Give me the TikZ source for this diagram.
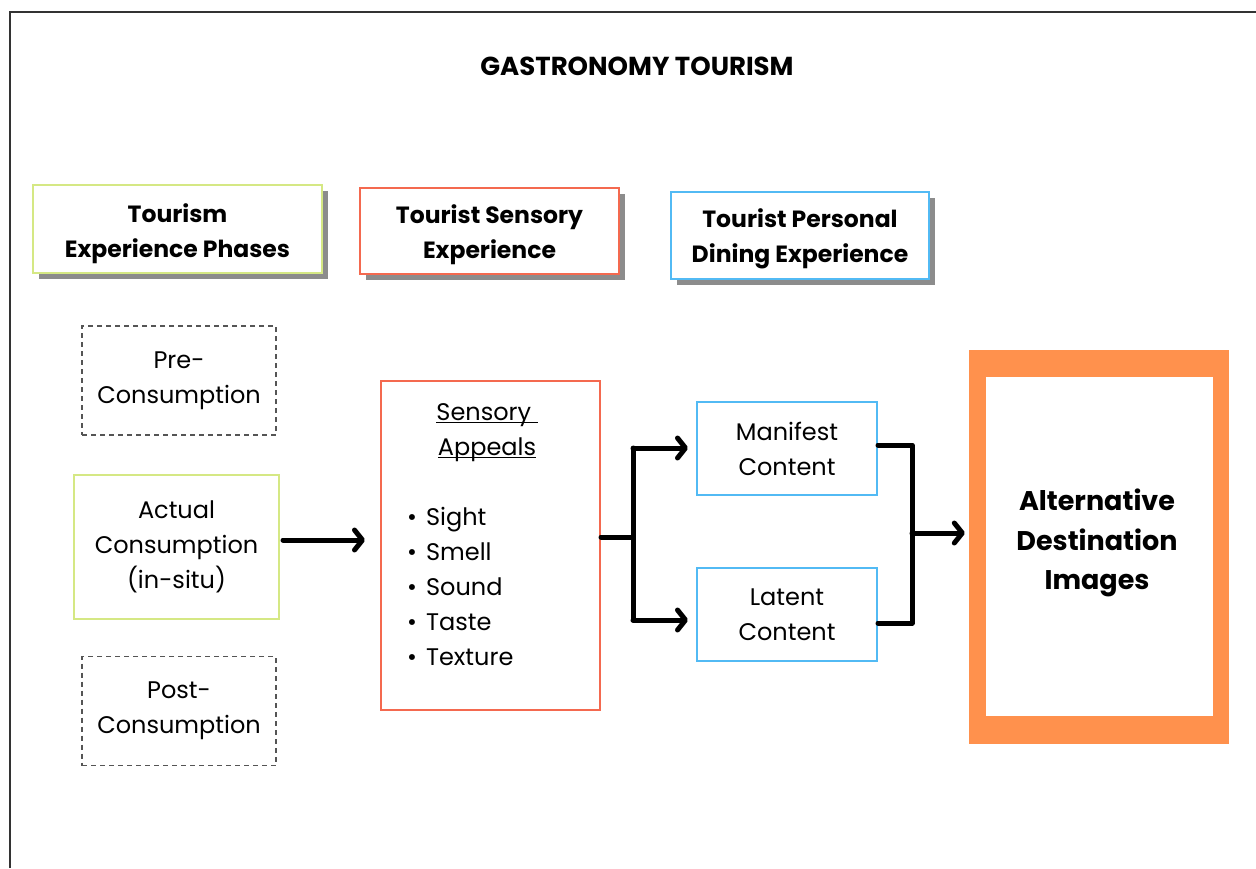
\documentclass[tikz,border=0pt]{standalone}
\usepackage{fontspec}
\setmainfont{Poppins}
\usetikzlibrary{arrows.meta}
\definecolor{cgreen}{HTML}{D5E884}
\definecolor{cred}{HTML}{F4694F}
\definecolor{cblue}{HTML}{52BAF4}
\definecolor{corange}{HTML}{FF914D}
\definecolor{cdash}{HTML}{555555}
\newcommand{\ulx}[1]{\underline{\smash{#1}}}
\tikzset{
  hdr/.style={draw, line width=2.5pt, fill=white, inner sep=0pt},
  hdrtext/.style={align=center, inner sep=0pt, font=\bfseries\fontsize{23.5}{35}\selectfont},
  body/.style={align=center, inner sep=0pt, font=\fontsize{24}{35}\selectfont},
  phase/.style={body, draw=cdash, dashed, line width=1.3pt, dash pattern=on 5pt off 4pt,
    minimum width=194pt, minimum height=109pt},
  cbox/.style={body, draw=cblue, line width=2pt, minimum width=180pt, minimum height=93pt},
  conn/.style={line width=5pt, line cap=round, line join=round},
  arr/.style={conn, -{Straight Barb[length=8pt,width=20pt,line cap=round,line join=round]}},
}
\begin{document}
\begin{tikzpicture}[x=1pt,y=-1pt]
\useasboundingbox (0,0) rectangle (1256,868);
% frame
\draw[line width=2pt, color=black!80] (10,868) -- (10,12) -- (1256,12);
% title
\node[font=\bfseries\fontsize{26}{30}\selectfont] (title) at (637,66) {GASTRONOMY TOURISM};
% header shadows
\fill[black!45] (39,191) rectangle (328,279);
\fill[black!45] (366,194) rectangle (625,280);
\fill[black!45] (677,198) rectangle (935,285);
% headers
\node[hdr, draw=cgreen, minimum width=289pt, minimum height=88pt] (h1) at (177.5,229) {};
\node[hdrtext] (h1t) at (177.5,234) {Tourism\\Experience Phases};
\node[hdr, draw=cred, minimum width=259pt, minimum height=86pt] (h2) at (489.5,231) {};
\node[hdrtext] (h2t) at (489.5,235) {Tourist Sensory\\Experience};
\node[hdr, draw=cblue, minimum width=258pt, minimum height=87pt] (h3) at (800,235.5) {};
\node[hdrtext] (h3t) at (800,239) {Tourist Personal\\Dining Experience};
% phases
\node[phase] (pre) at (179,380.5) {Pre-\\Consumption};
\node[body, draw=cgreen, line width=2.5pt, minimum width=205pt, minimum height=144pt] (act) at (176.5,547) {Actual\\Consumption\\(in-situ)};
\node[phase] (post) at (179,711) {Post-\\Consumption};
% sensory
\node[draw=cred, line width=2pt, minimum width=219pt, minimum height=329pt, inner sep=0pt] (sens) at (490.5,545.5) {};
\node[body] (senst) at (487,439) {\ulx{Sensory\ }\\\ulx{Appeals}};
\node[body, align=left, anchor=west] (list) at (407,586) {•\hspace{9pt}Sight\\•\hspace{9pt}Smell\\•\hspace{9pt}Sound\\•\hspace{9pt}Taste\\•\hspace{9pt}Texture};
% content
\node[cbox] (man) at (787,448.5) {Manifest\\Content};
\node[cbox] (lat) at (787,614.5) {Latent\\Content};
% alternative
\node[fill=corange, minimum width=260pt, minimum height=394pt, inner sep=0pt] (altbox) at (1099,547) {};
\node[fill=white, minimum width=227pt, minimum height=339pt, inner sep=0pt] (alt) at (1099.5,546.5) {};
\node[align=center, inner sep=0pt, font=\bfseries\fontsize{27}{39.5}\selectfont] (altt) at (1097,543) {Alternative\\Destination\\Images};
% connectors
\coordinate (a1) at (283,540);
\coordinate (b1) at (633,537);
\coordinate (b1t) at (633,448);
\coordinate (b1b) at (633,620);
\coordinate (b2t) at (912,445);
\coordinate (b2b) at (912,623);
\coordinate (b2) at (912,533);
\draw[arr, shorten >=15pt] (a1) -- (sens.west |- a1);
\draw[conn] (sens.east |- b1) -- (b1);
\draw[conn] (b1t) -- (b1b);
\draw[arr, shorten >=8pt] (b1t) -- (man.west |- b1t);
\draw[arr, shorten >=8pt] (b1b) -- (lat.west |- b1b);
\draw[conn] (man.east |- b2t) -- (b2t) -- (b2b) -- (lat.east |- b2b);
\draw[arr, shorten >=4pt] (b2) -- (altbox.west |- b2);
\end{tikzpicture}
\end{document}
